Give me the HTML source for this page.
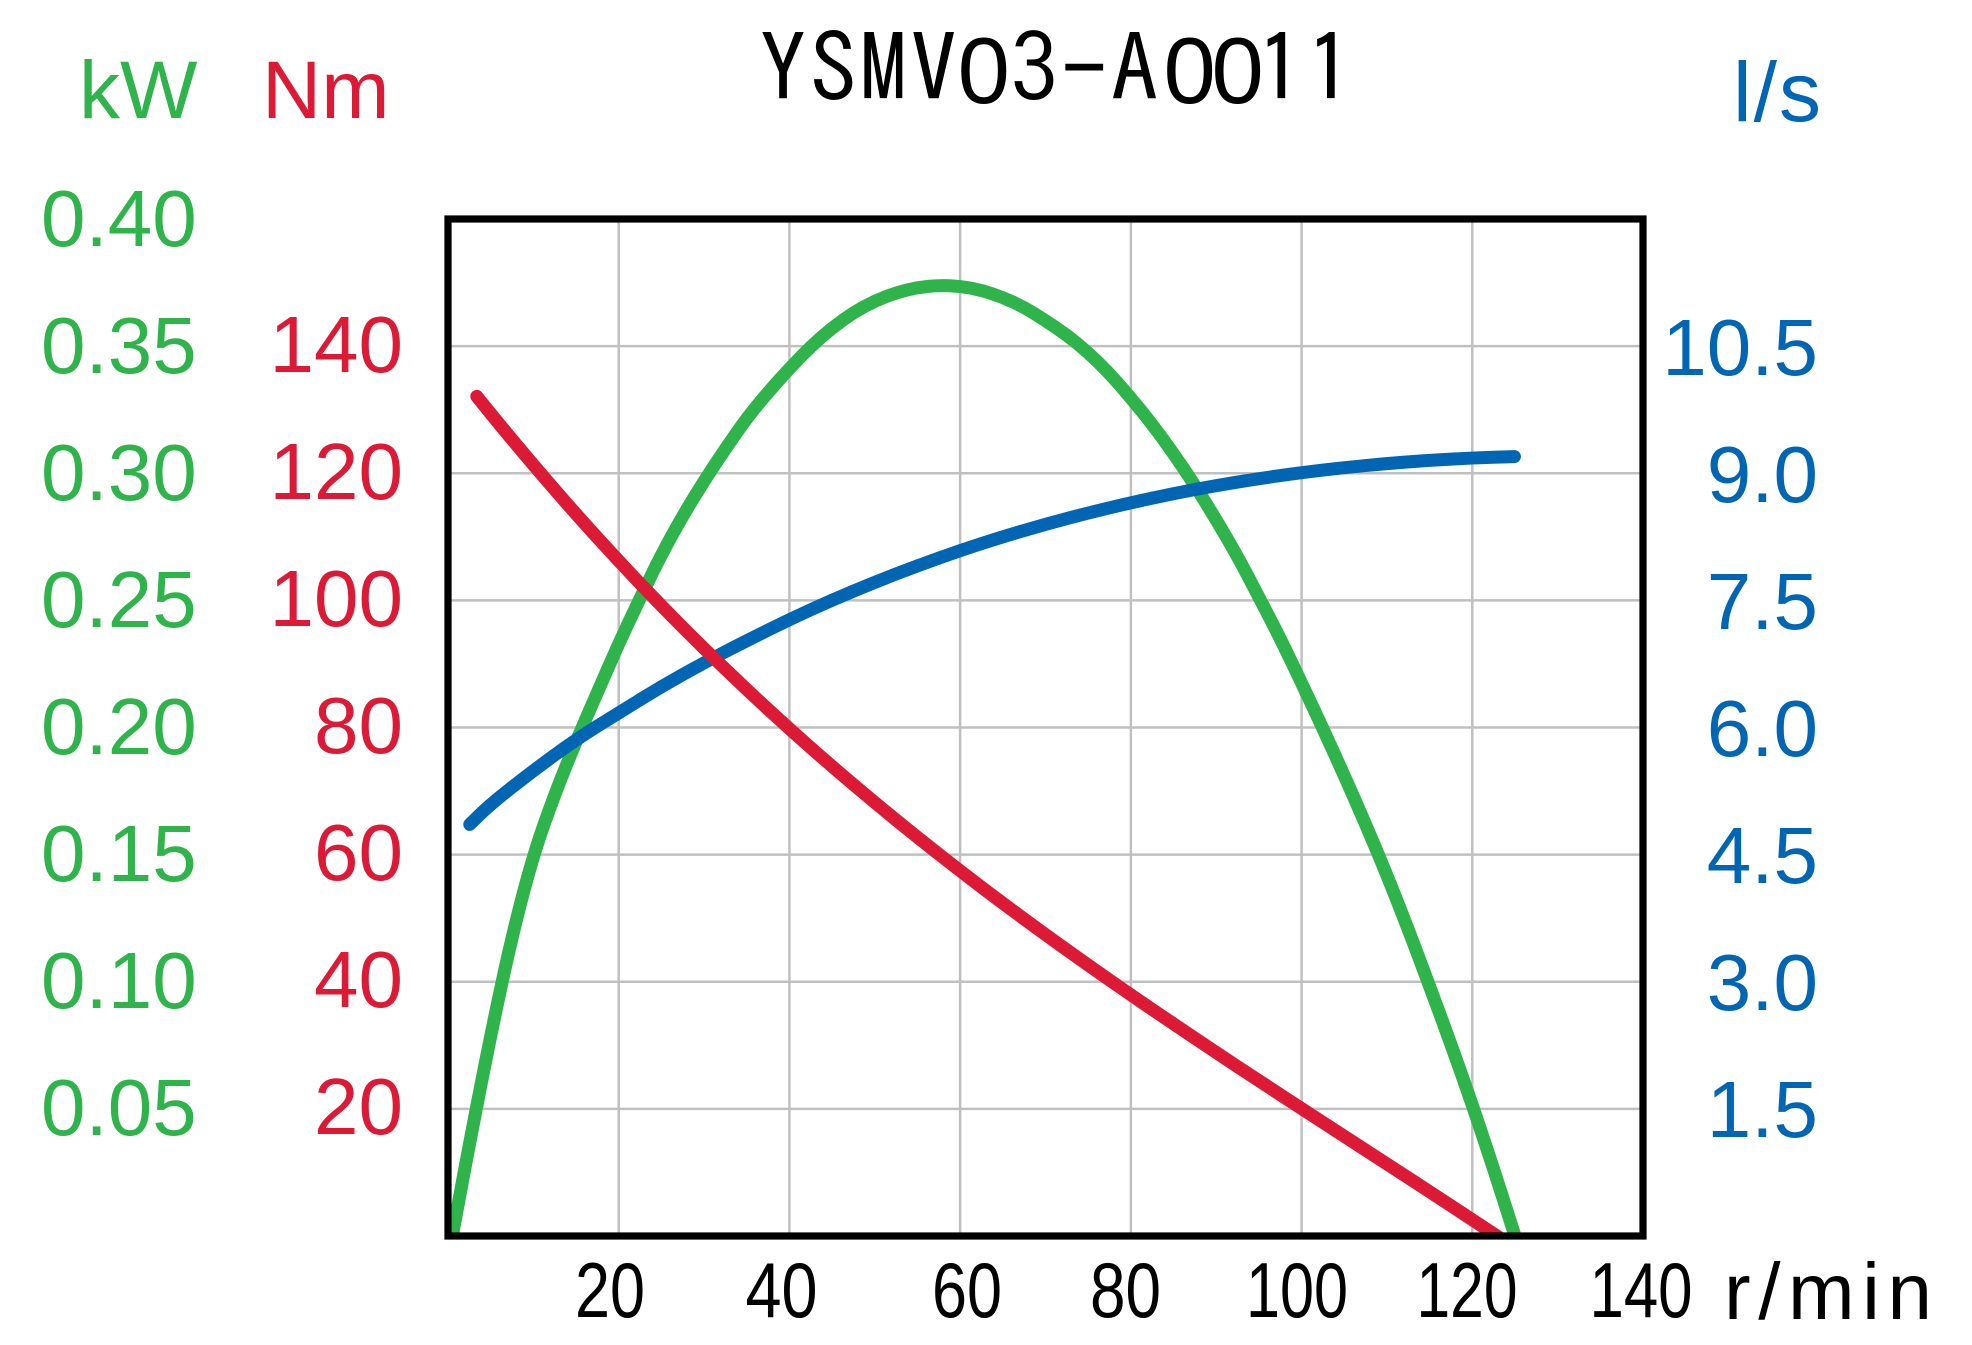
<!DOCTYPE html>
<html>
<head>
<meta charset="utf-8">
<style>
html,body{margin:0;padding:0;background:#fff;}
svg{display:block;}
</style>
</head>
<body>
<svg width="1972" height="1345" viewBox="0 0 1972 1345" xmlns="http://www.w3.org/2000/svg">
<rect x="0" y="0" width="1972" height="1345" fill="#ffffff"/>
<defs>
<clipPath id="plot"><rect x="448" y="219" width="1195" height="1017"/></clipPath>
</defs>
<g stroke="#c0c0c0" stroke-width="2.5">
<line x1="618.7" y1="219" x2="618.7" y2="1236"/>
<line x1="789.4" y1="219" x2="789.4" y2="1236"/>
<line x1="960.1" y1="219" x2="960.1" y2="1236"/>
<line x1="1130.9" y1="219" x2="1130.9" y2="1236"/>
<line x1="1301.6" y1="219" x2="1301.6" y2="1236"/>
<line x1="1472.3" y1="219" x2="1472.3" y2="1236"/>
<line x1="448" y1="346.1" x2="1643" y2="346.1"/>
<line x1="448" y1="473.3" x2="1643" y2="473.3"/>
<line x1="448" y1="600.4" x2="1643" y2="600.4"/>
<line x1="448" y1="727.5" x2="1643" y2="727.5"/>
<line x1="448" y1="854.6" x2="1643" y2="854.6"/>
<line x1="448" y1="981.8" x2="1643" y2="981.8"/>
<line x1="448" y1="1108.9" x2="1643" y2="1108.9"/>
</g>
<g clip-path="url(#plot)" fill="none" stroke-width="13" stroke-linecap="round" stroke-linejoin="round">
<path stroke="#2fb34b" d="M451.2,1242 L452.3,1236 L460.8,1190.25 Q469.3,1144.5 480.0,1089.8 Q490.7,1035.1 501.35,985.55 Q512.0,936.0 522.7,895.3 Q533.4,854.6 544.05,824.35 Q554.7,794.1 565.35,767.8 Q576.0,741.5 586.7,716.95 Q597.4,692.4 608.05,668.0 Q618.7,643.6 629.4,620.85 Q640.1,598.1 650.75,576.35 Q661.4,554.6 672.1,535.15 Q682.8,515.7 693.45,498.3 Q704.1,480.9 714.8,464.75 Q725.5,448.6 736.15,433.35 Q746.8,418.1 757.45,405.15 Q768.1,392.2 778.75,380.35 Q789.4,368.5 800.1,357.5 Q810.8,346.5 821.45,337.15 Q832.1,327.8 842.8,320.15 Q853.5,312.5 864.15,306.7 Q874.8,300.9 885.45,296.8 Q896.1,292.7 906.8,290.05 Q917.5,287.4 928.15,286.35 Q938.8,285.3 949.5,285.7 Q960.2,286.1 970.85,288.15 Q981.5,290.2 992.15,293.75 Q1002.8,297.3 1013.5,302.25 Q1024.2,307.2 1034.85,313.9 Q1045.5,320.6 1056.2,327.8 Q1066.9,335.0 1077.55,343.75 Q1088.2,352.5 1098.9,363.0 Q1109.6,373.5 1120.25,385.75 Q1130.9,398.0 1141.55,411.1 Q1152.2,424.2 1162.9,438.95 Q1173.6,453.7 1184.25,469.45 Q1194.9,485.2 1205.55,502.5 Q1216.2,519.8 1226.9,538.1 Q1237.6,556.4 1248.25,576.75 Q1258.9,597.1 1269.6,617.8 Q1280.3,638.5 1290.95,660.75 Q1301.6,683.0 1312.25,705.75 Q1322.9,728.5 1333.6,752.05 Q1344.3,775.6 1354.95,799.85 Q1365.6,824.1 1376.3,849.65 Q1387.0,875.2 1397.65,902.3 Q1408.3,929.4 1418.95,957.75 Q1429.6,986.1 1440.3,1015.2 Q1451.0,1044.3 1461.65,1074.55 Q1472.3,1104.8 1483.0,1136.95 Q1493.7,1169.1 1504.35,1202.55 L1515.0,1236 L1517.0,1242"/>
<path stroke="#0066b3" d="M469.8,824.4 L480.25,814.2 Q490.7,804.0 512.05,787.25 Q533.4,770.5 554.7,755.0 Q576.0,739.5 597.35,726.2 Q618.7,712.9 640.05,699.7 Q661.4,686.5 682.75,674.55 Q704.1,662.6 725.45,651.6 Q746.8,640.6 768.1,630.05 Q789.4,619.5 810.75,609.75 Q832.1,600.0 853.45,591.1 Q874.8,582.2 896.15,573.95 Q917.5,565.7 938.85,558.1 Q960.2,550.5 981.5,543.6 Q1002.8,536.7 1024.15,530.45 Q1045.5,524.2 1066.85,518.55 Q1088.2,512.9 1109.55,507.8 Q1130.9,502.7 1152.25,498.15 Q1173.6,493.6 1194.9,489.55 Q1216.2,485.5 1237.55,482.05 Q1258.9,478.6 1280.25,475.6 Q1301.6,472.6 1322.95,470.1 Q1344.3,467.6 1365.65,465.55 Q1387.0,463.5 1408.3,461.9 Q1429.6,460.3 1450.95,459.15 Q1472.3,458.0 1493.35,457.3 L1514.4,456.6"/>
<path stroke="#dc1a35" d="M476.8,396.4 L488.0,410.25 Q499.2,424.1 516.3,444.6 Q533.4,465.1 554.7,489.65 Q576.0,514.2 597.35,537.65 Q618.7,561.1 640.05,583.5 Q661.4,605.9 682.75,627.3 Q704.1,648.7 725.45,669.2 Q746.8,689.7 768.1,709.3 Q789.4,728.9 810.75,747.7 Q832.1,766.5 853.45,784.6 Q874.8,802.7 896.15,820.05 Q917.5,837.4 938.85,854.2 Q960.2,871.0 981.5,887.15 Q1002.8,903.3 1024.15,919.0 Q1045.5,934.7 1066.85,949.95 Q1088.2,965.2 1109.55,980.05 Q1130.9,994.9 1152.25,1009.45 Q1173.6,1024.0 1194.9,1038.3 Q1216.2,1052.6 1237.55,1066.65 Q1258.9,1080.7 1280.25,1094.65 Q1301.6,1108.6 1322.95,1122.45 Q1344.3,1136.3 1365.65,1150.15 Q1387.0,1164.0 1408.3,1177.85 Q1429.6,1191.7 1450.95,1205.7 Q1472.3,1219.7 1485.1,1228.15 L1497.9,1236.6 L1507,1242.5"/>
</g>
<rect x="448" y="219" width="1195" height="1017" fill="none" stroke="#000" stroke-width="7.2"/>
<text y="103" font-family="IPAGothic, 'Liberation Mono', monospace" font-size="94" fill="#000" text-anchor="middle" x="783 833.2 883.4 933.6 983.8 1034 1084.2 1134.5 1189.7 1237.7 1280 1329.5">YSMV<tspan font-family="'Liberation Sans Narrow', 'Liberation Sans', sans-serif">0</tspan>3-A<tspan font-family="'Liberation Sans Narrow', 'Liberation Sans', sans-serif">00</tspan>11</text>
<text x="79" y="118" font-family="'Liberation Sans', sans-serif" font-size="82" fill="#2fb34b">kW</text>
<text x="262" y="118" font-family="'Liberation Sans', sans-serif" font-size="82" fill="#dc1a35">Nm</text>
<text x="1733" y="121" font-family="'Liberation Sans', sans-serif" font-size="84" fill="#0066b3" textLength="88">l/s</text>
<g font-family="'Liberation Sans', sans-serif" font-size="80" fill="#2fb34b">
<text x="41" y="246">0.40</text>
<text x="41" y="373">0.35</text>
<text x="41" y="500">0.30</text>
<text x="41" y="627">0.25</text>
<text x="41" y="754">0.20</text>
<text x="41" y="881">0.15</text>
<text x="41" y="1008">0.10</text>
<text x="41" y="1135">0.05</text>
</g>
<g font-family="'Liberation Sans', sans-serif" font-size="80" fill="#dc1a35" text-anchor="end">
<text x="403" y="372">140</text>
<text x="403" y="499">120</text>
<text x="403" y="626">100</text>
<text x="403" y="753">80</text>
<text x="403" y="880">60</text>
<text x="403" y="1007">40</text>
<text x="403" y="1134">20</text>
</g>
<g font-family="'Liberation Sans', sans-serif" font-size="80" fill="#0066b3" text-anchor="end">
<text x="1818" y="375">10.5</text>
<text x="1818" y="502">9.0</text>
<text x="1818" y="629">7.5</text>
<text x="1818" y="756">6.0</text>
<text x="1818" y="883">4.5</text>
<text x="1818" y="1010">3.0</text>
<text x="1818" y="1137">1.5</text>
</g>
<g font-family="'Liberation Sans', sans-serif" font-size="78" fill="#000" text-anchor="middle">
<text x="610" y="1317" textLength="70" lengthAdjust="spacingAndGlyphs">20</text>
<text x="781.5" y="1317" textLength="72" lengthAdjust="spacingAndGlyphs">40</text>
<text x="967" y="1317" textLength="70" lengthAdjust="spacingAndGlyphs">60</text>
<text x="1125.5" y="1317" textLength="71" lengthAdjust="spacingAndGlyphs">80</text>
<text x="1297" y="1317" textLength="102" lengthAdjust="spacingAndGlyphs">100</text>
<text x="1467" y="1317" textLength="101" lengthAdjust="spacingAndGlyphs">120</text>
<text x="1641" y="1317" textLength="103" lengthAdjust="spacingAndGlyphs">140</text>
</g>
<text x="1724" y="1319" font-family="'Liberation Sans', sans-serif" font-size="80" fill="#000" textLength="208">r/min</text>
</svg>
</body>
</html>
